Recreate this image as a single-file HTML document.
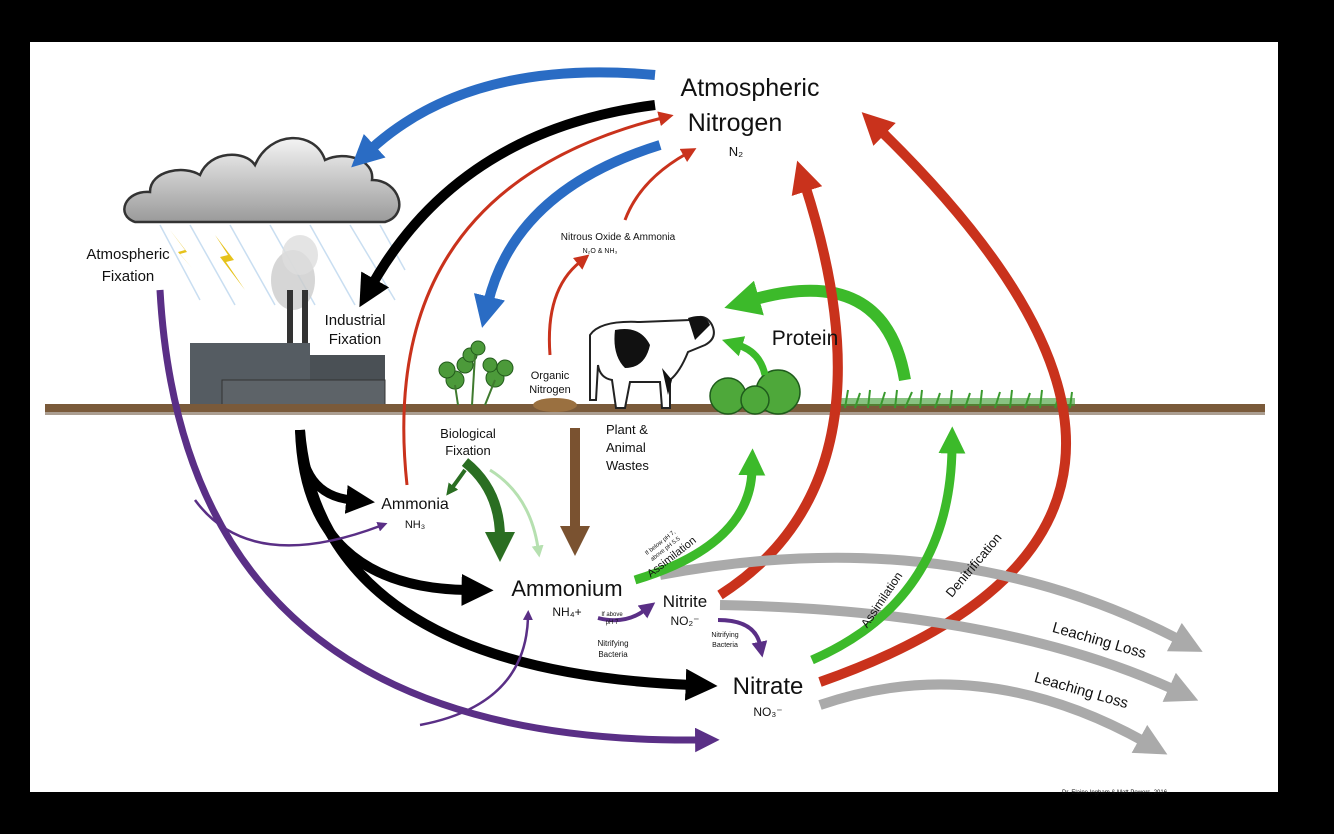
<!DOCTYPE html>
<html><head><meta charset="utf-8"><style>
html,body{margin:0;padding:0;background:#000;}
svg{display:block}
text{font-family:"Liberation Sans",sans-serif;fill:#111}
</style></head><body>
<svg width="1334" height="834" viewBox="0 0 1334 834" xmlns="http://www.w3.org/2000/svg">
<defs>
<marker id="mBlue" viewBox="0 0 10 10" refX="2" refY="5" markerWidth="3.2" markerHeight="3.2" orient="auto"><path d="M0,0L10,5L0,10z" fill="#2a6cc4"/></marker>
<marker id="mBlk" viewBox="0 0 10 10" refX="2" refY="5" markerWidth="3.2" markerHeight="3.2" orient="auto"><path d="M0,0L10,5L0,10z" fill="#000"/></marker>
<marker id="mRed" viewBox="0 0 10 10" refX="2" refY="5" markerWidth="3.2" markerHeight="3.2" orient="auto"><path d="M0,0L10,5L0,10z" fill="#c9321c"/></marker>
<marker id="mRedT" viewBox="0 0 10 10" refX="2" refY="5" markerWidth="5" markerHeight="5" orient="auto"><path d="M0,0L10,5L0,10z" fill="#c9321c"/></marker>
<marker id="mGrn" viewBox="0 0 10 10" refX="2" refY="5" markerWidth="3" markerHeight="3" orient="auto"><path d="M0,0L10,5L0,10z" fill="#3cba2a"/></marker>
<marker id="mDG" viewBox="0 0 10 10" refX="2" refY="5" markerWidth="3" markerHeight="3" orient="auto"><path d="M0,0L10,5L0,10z" fill="#2a6e22"/></marker>
<marker id="mLG" viewBox="0 0 10 10" refX="2" refY="5" markerWidth="4" markerHeight="4" orient="auto"><path d="M0,0L10,5L0,10z" fill="#b6e0b0"/></marker>
<marker id="mGray" viewBox="0 0 10 10" refX="2" refY="5" markerWidth="3.2" markerHeight="3.2" orient="auto"><path d="M0,0L10,5L0,10z" fill="#aaa"/></marker>
<marker id="mPur" viewBox="0 0 10 10" refX="2" refY="5" markerWidth="3.5" markerHeight="3.5" orient="auto"><path d="M0,0L10,5L0,10z" fill="#5a2f86"/></marker>
<marker id="mPurT" viewBox="0 0 10 10" refX="2" refY="5" markerWidth="4" markerHeight="4" orient="auto"><path d="M0,0L10,5L0,10z" fill="#5a2f86"/></marker>
<marker id="mBrn" viewBox="0 0 10 10" refX="2" refY="5" markerWidth="3" markerHeight="3" orient="auto"><path d="M0,0L10,5L0,10z" fill="#7a5230"/></marker>
<linearGradient id="cg" x1="0" y1="0" x2="0" y2="1"><stop offset="0" stop-color="#f4f4f4"/><stop offset="1" stop-color="#9a9a9a"/></linearGradient>
</defs>
<rect x="30" y="42" width="1248" height="750" fill="#fff"/>

<g stroke="#bcd6ee" stroke-width="1.5" opacity="0.8">
<line x1="160" y1="225" x2="200" y2="300"/><line x1="190" y1="225" x2="235" y2="305"/><line x1="230" y1="225" x2="275" y2="305"/><line x1="270" y1="225" x2="315" y2="305"/><line x1="310" y1="225" x2="355" y2="305"/><line x1="350" y1="225" x2="395" y2="300"/><line x1="380" y1="225" x2="405" y2="270"/>
</g>
<path d="M135,222 C115,215 125,190 150,192 C150,170 185,165 200,175 C210,150 245,150 255,165 C270,130 315,130 325,160 C345,150 375,160 372,180 C400,180 410,215 385,222 Z" fill="url(#cg)" stroke="#333" stroke-width="2.5"/>
<polygon points="170,230 185,250 178,252 192,268 180,254 187,252" fill="#e6c21a"/>
<polygon points="215,235 228,255 220,257 245,290 226,262 234,260" fill="#e6c21a"/>

<ellipse cx="293" cy="280" rx="22" ry="30" fill="#ccc" opacity="0.8"/>
<ellipse cx="300" cy="255" rx="18" ry="20" fill="#ddd" opacity="0.8"/>
<rect x="287" y="290" width="6" height="90" fill="#333"/>
<rect x="302" y="290" width="6" height="90" fill="#333"/>
<rect x="190" y="343" width="120" height="65" fill="#555c62"/>
<rect x="310" y="355" width="75" height="53" fill="#4a5055"/>
<rect x="222" y="380" width="163" height="28" fill="#5d6368" stroke="#333"/>

<rect x="45" y="404" width="1220" height="11" fill="#7a5a3a"/>
<rect x="45" y="412" width="1220" height="3" fill="#ccc" opacity="0.6"/>
<ellipse cx="555" cy="405" rx="22" ry="7" fill="#9a7040"/>

<g fill="#4c9a3a" stroke="#235c1c" stroke-width="1">
<circle cx="455" cy="380" r="9"/><circle cx="447" cy="370" r="8"/><circle cx="465" cy="365" r="8"/>
<circle cx="495" cy="378" r="9"/><circle cx="505" cy="368" r="8"/><circle cx="490" cy="365" r="7"/>
<circle cx="470" cy="355" r="7"/><circle cx="478" cy="348" r="7"/>
</g>
<g stroke="#3f7a2e" stroke-width="2" fill="none"><path d="M455,385 L458,405"/><path d="M495,380 L485,405"/><path d="M475,355 L472,405"/></g>

<g>
<path d="M590,335 Q600,320 640,322 L690,320 Q705,312 712,325 Q718,338 705,345 L688,352 Q680,372 670,380 L670,408 L662,408 L660,382 L630,382 L625,408 L616,408 L612,380 Q600,378 598,365 L596,400 L590,400 Z" fill="#fff" stroke="#222" stroke-width="2"/>
<path d="M615,330 Q640,325 650,345 Q645,368 625,368 Q612,355 615,330Z" fill="#111"/>
<path d="M688,318 Q705,312 710,325 L695,340Z" fill="#111"/>
<path d="M662,368 L672,380 L668,395Z" fill="#111"/>
</g>
<g fill="#4ea83a" stroke="#1f5c1c" stroke-width="1.5">
<circle cx="728" cy="396" r="18"/><circle cx="778" cy="392" r="22"/><circle cx="755" cy="400" r="14"/>
</g>
<g stroke="#3a9a2e" stroke-width="2">
<path d="M835,408 L840,392 M845,408 L848,390 M855,408 L860,393 M868,408 L870,390 M880,408 L885,392 M895,408 L897,390 M905,408 L912,392 M920,408 L922,390 M935,408 L940,393 M950,408 L952,390 M965,408 L970,393 M980,408 L982,390 M995,408 L1000,392 M1010,408 L1012,390 M1025,408 L1030,393 M1040,408 L1042,390 M1055,408 L1060,392 M1070,408 L1072,392"/>
</g>
<rect x="835" y="398" width="240" height="8" fill="#3a9a2e" opacity="0.6"/>

<g fill="none" stroke-linecap="butt">
<path d="M655,75 Q470,58 370,150" stroke="#2a6cc4" stroke-width="10" marker-end="url(#mBlue)"/>
<path d="M655,105 Q460,130 372,285" stroke="#000" stroke-width="10" marker-end="url(#mBlk)"/>
<path d="M660,145 Q515,190 488,303" stroke="#2a6cc4" stroke-width="10" marker-end="url(#mBlue)"/>
<path d="M407,485 Q375,190 662,118" stroke="#c9321c" stroke-width="3" marker-end="url(#mRedT)"/>
<path d="M550,355 Q545,290 580,262" stroke="#c9321c" stroke-width="3" marker-end="url(#mRedT)"/>
<path d="M625,220 Q640,180 686,154" stroke="#c9321c" stroke-width="3" marker-end="url(#mRedT)"/>
<path d="M905,380 Q885,262 752,300" stroke="#3cba2a" stroke-width="12" marker-end="url(#mGrn)"/>
<path d="M765,375 Q760,352 738,345" stroke="#3cba2a" stroke-width="7" marker-end="url(#mGrn)"/>
<path d="M720,595 Q900,480 805,185" stroke="#c9321c" stroke-width="10" marker-end="url(#mRed)"/>
<path d="M820,682 Q1280,520 880,130" stroke="#c9321c" stroke-width="10" marker-end="url(#mRed)"/>
<path d="M660,575 Q950,520 1180,640" stroke="#aaa" stroke-width="10" marker-end="url(#mGray)"/>
<path d="M720,605 Q1000,610 1175,690" stroke="#aaa" stroke-width="10" marker-end="url(#mGray)"/>
<path d="M820,705 Q980,650 1145,742" stroke="#aaa" stroke-width="10" marker-end="url(#mGray)"/>
<path d="M635,580 Q750,545 752,470" stroke="#3cba2a" stroke-width="9" marker-end="url(#mGrn)"/>
<path d="M812,660 Q950,600 952,448" stroke="#3cba2a" stroke-width="9" marker-end="url(#mGrn)"/>
<path d="M300,430 Q300,495 352,500" stroke="#000" stroke-width="9" marker-end="url(#mBlk)"/>
<path d="M300,430 Q305,588 468,590" stroke="#000" stroke-width="10" marker-end="url(#mBlk)"/>
<path d="M300,430 Q320,670 692,685" stroke="#000" stroke-width="10" marker-end="url(#mBlk)"/>
<path d="M160,290 Q185,745 700,740" stroke="#5a2f86" stroke-width="7" marker-end="url(#mPur)"/>
<path d="M195,500 Q250,575 380,526" stroke="#5a2f86" stroke-width="2.5" marker-end="url(#mPurT)"/>
<path d="M420,725 Q525,705 528,618" stroke="#5a2f86" stroke-width="2.5" marker-end="url(#mPurT)"/>
<path d="M598,618 Q625,625 645,610" stroke="#5a2f86" stroke-width="4" marker-end="url(#mPurT)"/>
<path d="M718,620 Q755,620 760,645" stroke="#5a2f86" stroke-width="4" marker-end="url(#mPurT)"/>
<path d="M465,462 Q500,490 500,538" stroke="#2a6e22" stroke-width="10" marker-end="url(#mDG)"/>
<path d="M465,470 Q458,480 452,488" stroke="#2a6e22" stroke-width="4" marker-end="url(#mDG)"/>
<path d="M490,470 Q530,495 538,548" stroke="#b6e0b0" stroke-width="3" marker-end="url(#mLG)"/>
<path d="M575,428 L575,532" stroke="#7a5230" stroke-width="10" marker-end="url(#mBrn)"/>
</g>

<text x="750" y="96" font-size="25" text-anchor="middle">Atmospheric</text>
<text x="735" y="131" font-size="25" text-anchor="middle">Nitrogen</text>
<text x="736" y="156" font-size="13" text-anchor="middle">N₂</text>
<text x="128" y="259" font-size="15" text-anchor="middle">Atmospheric</text>
<text x="128" y="281" font-size="15" text-anchor="middle">Fixation</text>
<text x="355" y="325" font-size="15" text-anchor="middle">Industrial</text>
<text x="355" y="344" font-size="15" text-anchor="middle">Fixation</text>
<text x="618" y="240" font-size="10" text-anchor="middle">Nitrous Oxide &amp; Ammonia</text>
<text x="600" y="253" font-size="7" text-anchor="middle">N₂O &amp; NH₃</text>
<text x="550" y="379" font-size="11" text-anchor="middle">Organic</text>
<text x="550" y="393" font-size="11" text-anchor="middle">Nitrogen</text>
<text x="805" y="345" font-size="21" text-anchor="middle">Protein</text>
<text x="468" y="438" font-size="13" text-anchor="middle">Biological</text>
<text x="468" y="455" font-size="13" text-anchor="middle">Fixation</text>
<text x="606" y="434" font-size="13">Plant &amp;</text>
<text x="606" y="452" font-size="13">Animal</text>
<text x="606" y="470" font-size="13">Wastes</text>
<text x="415" y="509" font-size="16" text-anchor="middle">Ammonia</text>
<text x="415" y="528" font-size="11" text-anchor="middle">NH₃</text>
<text x="567" y="596" font-size="22" text-anchor="middle">Ammonium</text>
<text x="567" y="616" font-size="12" text-anchor="middle">NH₄+</text>
<text x="685" y="607" font-size="17" text-anchor="middle">Nitrite</text>
<text x="685" y="625" font-size="12" text-anchor="middle">NO₂⁻</text>
<text x="768" y="694" font-size="24" text-anchor="middle">Nitrate</text>
<text x="768" y="716" font-size="12" text-anchor="middle">NO₃⁻</text>
<text x="612" y="616" font-size="6" text-anchor="middle">If above</text>
<text x="612" y="624" font-size="6" text-anchor="middle">pH 7</text>
<text x="613" y="646" font-size="8" text-anchor="middle">Nitrifying</text>
<text x="613" y="657" font-size="8" text-anchor="middle">Bacteria</text>
<text x="725" y="637" font-size="7" text-anchor="middle">Nitrifying</text>
<text x="725" y="647" font-size="7" text-anchor="middle">Bacteria</text>
<g transform="translate(670,555) rotate(-38)">
<text x="0" y="-14" font-size="6" text-anchor="middle">If below pH 7,</text>
<text x="0" y="-6" font-size="6" text-anchor="middle">above pH 5.5</text>
<text x="0" y="6" font-size="11" text-anchor="middle">Assimilation</text>
</g>
<text transform="translate(885,602) rotate(-56)" font-size="12" text-anchor="middle">Assimilation</text>
<text transform="translate(977,568) rotate(-50)" font-size="13" text-anchor="middle">Denitrification</text>
<text transform="translate(1098,645) rotate(16)" font-size="15" text-anchor="middle">Leaching Loss</text>
<text transform="translate(1080,695) rotate(16)" font-size="15" text-anchor="middle">Leaching Loss</text>
<text x="1062" y="794" font-size="6">Dr. Elaine Ingham &amp; Matt Powers, 2016</text>
</svg>
</body></html>
